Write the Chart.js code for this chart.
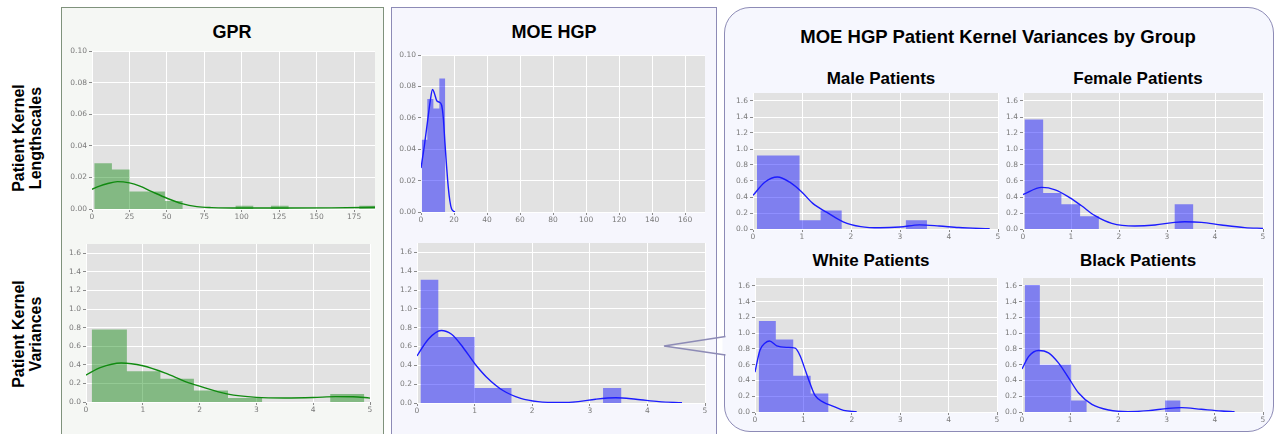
<!DOCTYPE html>
<html>
<head>
<meta charset="utf-8">
<script src="https://cdn.jsdelivr.net/npm/chart.js@4.4.1/dist/chart.umd.min.js"></script>
<style>
  html, body { margin: 0; padding: 0; background: #ffffff; }
  #page { position: relative; width: 1276px; height: 434px; overflow: hidden; background: #ffffff; font-family: 'Liberation Sans', Arial, sans-serif; }
  .panel { position: absolute; box-sizing: border-box; }
  .title { position: absolute; transform: translate(-50%, -50%); font-weight: bold; color: #000; white-space: nowrap; line-height: 1; }
  .rowlab { position: absolute; transform: translate(-50%, -50%) rotate(-90deg); font-weight: bold; font-size: 16px; line-height: 17px; text-align: center; white-space: nowrap; color: #000; }
</style>
</head>
<body>
<div id="page">
  <div class="panel" style="left:61px;top:7px;width:323px;height:440px;border:1.5px solid #7f927c;background:#f5f7f4;"></div>
  <div class="panel" style="left:391px;top:7px;width:326px;height:440px;border:1.5px solid #8d8bb6;background:#f6f6fd;"></div>
  <div class="panel" style="left:724px;top:7px;width:550px;height:425px;border:1.5px solid #8d8bb6;border-radius:26px;background:#f6f7fe;"></div>
  <svg width="1276" height="434" style="position:absolute;left:0;top:0;z-index:10;">
    <rect x="722.5" y="337" width="5" height="17" fill="#f6f7fe" />
    <polyline points="725.5,336.5 664,346 725.5,355" fill="none" stroke="#8d8bb6" stroke-width="1.5" />
  </svg>

  <div class="title" style="left:232px;top:32px;font-size:18px;">GPR</div>
  <div class="title" style="left:554px;top:32px;font-size:18px;">MOE HGP</div>
  <div class="title" style="left:998px;top:37px;font-size:18.5px;">MOE HGP Patient Kernel Variances by Group</div>
  <div class="title" style="left:881px;top:78px;font-size:17px;">Male Patients</div>
  <div class="title" style="left:1138px;top:78px;font-size:17px;">Female Patients</div>
  <div class="title" style="left:871px;top:260px;font-size:17px;">White Patients</div>
  <div class="title" style="left:1138px;top:260px;font-size:17px;">Black Patients</div>

  <div class="rowlab" style="left:27px;top:138px;">Patient Kernel<br>Lengthscales</div>
  <div class="rowlab" style="left:27px;top:334px;">Patient Kernel<br>Variances</div>
</div>

<script>
// tick values
const gprLenTicksX = [0, 25, 50, 75, 100, 125, 150, 175];
const moeLenTicksX = [0, 20, 40, 60, 80, 100, 120, 140, 160];
const varTicksX = [0, 1, 2, 3, 4, 5];
const lenTicksY = [0, 0.02, 0.04, 0.06, 0.08, 0.10];
const varTicksY = [0, 0.2, 0.4, 0.6, 0.8, 1.0, 1.2, 1.4, 1.6];

// GPR lengthscales
const gprLenEdges = [1.5, 13.3, 25.1, 36.9, 48.7, 60.5, 95.9, 107.7, 119.5, 131.3, 178.5, 190.3];
const gprLenHeights = [0.029, 0.025, 0.011, 0.011, 0.005, 0, 0.002, 0, 0.002, 0, 0.002];
const gprLenKdeX = [0, 5, 10, 17, 25, 32, 40, 50, 60, 70, 80, 100, 130, 160, 190];
const gprLenKdeY = [0.0125, 0.0145, 0.016, 0.0173, 0.0165, 0.0145, 0.011, 0.0068, 0.0034, 0.0015, 0.0009, 0.0006, 0.0006, 0.0007, 0.0011];

// GPR variances
const gprVarEdges = [0.1, 0.72, 1.31, 1.9, 2.5, 3.1, 4.3, 4.9];
const gprVarHeights = [0.78, 0.33, 0.25, 0.125, 0.043, 0, 0.085];
const gprVarKdeX = [0, 0.25, 0.62, 1.0, 1.4, 1.75, 2.0, 2.5, 3.0, 3.5, 4.0, 4.4, 4.7, 5.0];
const gprVarKdeY = [0.29, 0.37, 0.42, 0.39, 0.31, 0.22, 0.17, 0.085, 0.05, 0.043, 0.048, 0.058, 0.057, 0.042];

// MOE HGP lengthscales
const moeLenEdges = [0.4, 3.8, 7.5, 11.1, 14.7];
const moeLenHeights = [0.046, 0.072, 0.066, 0.085];
const moeLenKdeX = [0, 2, 4, 5.5, 7, 8, 9.5, 11, 12.5, 13.5, 14.5, 15.5, 16.5, 17.5, 18.5, 20.5];
const moeLenKdeY = [0.028, 0.042, 0.058, 0.070, 0.078, 0.076, 0.071, 0.070, 0.068, 0.060, 0.044, 0.029, 0.016, 0.007, 0.002, 0];

// MOE HGP variances
const moeVarEdges = [0.06, 0.37, 0.69, 1.0, 1.32, 1.64, 3.23, 3.55];
const moeVarHeights = [1.31, 0.70, 0.70, 0.16, 0.16, 0, 0.16];
const moeVarKdeX = [0, 0.2, 0.42, 0.6, 0.8, 1.0, 1.2, 1.5, 1.8, 2.1, 2.5, 2.8, 3.1, 3.45, 3.8, 4.2, 4.6];
const moeVarKdeY = [0.50, 0.68, 0.77, 0.73, 0.59, 0.42, 0.28, 0.13, 0.05, 0.015, 0.005, 0.015, 0.04, 0.055, 0.04, 0.015, 0.003];

// by group
const maleEdges = [0.08, 0.52, 0.95, 1.38, 1.81, 3.12, 3.55];
const maleHeights = [0.92, 0.92, 0.11, 0.23, 0, 0.11];
const maleKdeX = [0, 0.24, 0.5, 0.75, 1.0, 1.22, 1.5, 1.84, 2.2, 2.6, 3.0, 3.4, 3.8, 4.2, 4.83];
const maleKdeY = [0.42, 0.585, 0.65, 0.585, 0.46, 0.32, 0.21, 0.09, 0.03, 0.015, 0.025, 0.052, 0.038, 0.018, 0.003];

const femaleEdges = [0.03, 0.42, 0.80, 1.19, 1.58, 3.16, 3.55];
const femaleHeights = [1.37, 0.45, 0.31, 0.16, 0, 0.31];
const femaleKdeX = [0, 0.39, 0.67, 0.98, 1.22, 1.5, 1.85, 2.33, 2.75, 3.16, 3.37, 3.72, 4.13, 4.62, 5.0];
const femaleKdeY = [0.43, 0.52, 0.49, 0.39, 0.29, 0.166, 0.07, 0.037, 0.05, 0.083, 0.09, 0.083, 0.05, 0.017, 0.008];

const whiteEdges = [0.076, 0.43, 0.79, 1.15, 1.52];
const whiteHeights = [1.155, 0.92, 0.46, 0.236];
const whiteKdeX = [0, 0.1, 0.21, 0.3, 0.45, 0.66, 0.83, 0.93, 1.03, 1.14, 1.24, 1.41, 1.62, 1.83, 2.1];
const whiteKdeY = [0.505, 0.78, 0.876, 0.90, 0.84, 0.82, 0.81, 0.716, 0.547, 0.358, 0.21, 0.126, 0.072, 0.021, 0.004];

const blackEdges = [0.055, 0.37, 0.70, 1.02, 1.34, 2.97, 3.29];
const blackHeights = [1.61, 0.60, 0.60, 0.145, 0, 0.145];
const blackKdeX = [0, 0.14, 0.34, 0.55, 0.76, 0.97, 1.17, 1.45, 1.8, 2.2, 2.62, 3.03, 3.31, 3.72, 4.14, 4.41];
const blackKdeY = [0.546, 0.706, 0.78, 0.75, 0.62, 0.43, 0.244, 0.097, 0.025, 0.005, 0.017, 0.046, 0.055, 0.034, 0.013, 0.004];

const GREEN_FILL = 'rgba(0, 128, 0, 0.42)';
const GREEN_LINE = '#108a10';
const BLUE_FILL = 'rgba(0, 0, 255, 0.44)';
const BLUE_LINE = '#1c1cff';

// axis box sizes around each plot area
const YW = 28, XH = 14, TP = 6, RP = 10;

const plotBg = {
	id: 'plotBg',
	beforeDraw(chart) {
		const { ctx, chartArea: a } = chart;
		ctx.save();
		ctx.fillStyle = '#e2e2e2';
		ctx.fillRect(a.left, a.top, a.width, a.height);
		ctx.restore();
	}
};

function drawHist(box, o) {
	const c = document.createElement('canvas');
	const w = box[2] - box[0] + YW + RP;
	const h = box[3] - box[1] + TP + XH;
	c.width = w;
	c.height = h;
	c.style.cssText = 'position:absolute;left:' + (box[0] - YW) + 'px;top:' + (box[1] - TP) + 'px;width:' + w + 'px;height:' + h + 'px;';
	document.getElementById('page').appendChild(c);

	const histPts = o.edges.map((e, i) => ({ x: e, y: i < o.heights.length ? o.heights[i] : 0 }));
	const kdePts = o.kdeX.map((x, i) => ({ x: x, y: o.kdeY[i] }));

	const tickFont = { family: 'DejaVu Sans', size: 7.5 };

	return new Chart(c, {
		type: 'line',
		data: {
			datasets: [{
				data: kdePts,
				borderColor: o.line,
				borderWidth: 1.4,
				pointRadius: 0,
				cubicInterpolationMode: 'monotone',
				fill: false,
			}, {
				data: histPts,
				stepped: true,
				backgroundColor: o.fill,
				borderColor: 'transparent',
				borderWidth: 0,
				pointRadius: 0,
				fill: 'origin',
			}]
		},
		options: {
			responsive: false,
			animation: false,
			events: [],
			layout: { padding: { top: TP, right: RP, left: 0, bottom: 0 } },
			scales: {
				x: {
					type: 'linear',
					min: 0,
					max: o.xMax,
					afterBuildTicks: s => { s.ticks = o.xTicks.map(v => ({ value: v })); },
					afterFit: s => { s.height = XH; s.paddingLeft = 0; s.paddingRight = 0; },
					grid: { color: '#ffffff', lineWidth: 1, drawTicks: true, tickLength: 3, tickColor: '#8a8a8a' },
					border: { display: false },
					ticks: {
						font: tickFont,
						color: '#7a7a7a',
						padding: 1,
						maxRotation: 0,
						autoSkip: false,
						callback: v => String(v)
					}
				},
				y: {
					min: 0,
					max: o.yMax,
					afterBuildTicks: s => { s.ticks = o.yTicks.map(v => ({ value: v })); },
					afterFit: s => { s.width = YW; s.paddingTop = 0; s.paddingBottom = 0; },
					grid: { color: '#ffffff', lineWidth: 1, drawTicks: true, tickLength: 3, tickColor: '#8a8a8a' },
					border: { display: false },
					ticks: {
						font: tickFont,
						color: '#7a7a7a',
						padding: 2,
						autoSkip: false,
						callback: v => v.toFixed(o.yDigits)
					}
				}
			},
			plugins: {
				legend: { display: false },
				tooltip: { enabled: false },
				title: { display: false }
			}
		},
		plugins: [plotBg]
	});
}

// Chart GPR lengthscales
drawHist([92, 51, 375, 209], {
	edges: gprLenEdges, heights: gprLenHeights, kdeX: gprLenKdeX, kdeY: gprLenKdeY,
	xMax: 189, yMax: 0.1, xTicks: gprLenTicksX, yTicks: lenTicksY, yDigits: 2,
	fill: GREEN_FILL, line: GREEN_LINE
});

// Chart GPR variances
drawHist([86, 244, 370, 402], {
	edges: gprVarEdges, heights: gprVarHeights, kdeX: gprVarKdeX, kdeY: gprVarKdeY,
	xMax: 5, yMax: 1.7, xTicks: varTicksX, yTicks: varTicksY, yDigits: 1,
	fill: GREEN_FILL, line: GREEN_LINE
});

// Chart MOE lengthscales
drawHist([421, 55, 705, 212], {
	edges: moeLenEdges, heights: moeLenHeights, kdeX: moeLenKdeX, kdeY: moeLenKdeY,
	xMax: 172, yMax: 0.1, xTicks: moeLenTicksX, yTicks: lenTicksY, yDigits: 2,
	fill: BLUE_FILL, line: BLUE_LINE
});

// Chart MOE variances
drawHist([417, 243, 705, 403], {
	edges: moeVarEdges, heights: moeVarHeights, kdeX: moeVarKdeX, kdeY: moeVarKdeY,
	xMax: 5, yMax: 1.7, xTicks: varTicksX, yTicks: varTicksY, yDigits: 1,
	fill: BLUE_FILL, line: BLUE_LINE
});

// Group charts
drawHist([753, 93, 998, 229], {
	edges: maleEdges, heights: maleHeights, kdeX: maleKdeX, kdeY: maleKdeY,
	xMax: 5, yMax: 1.7, xTicks: varTicksX, yTicks: varTicksY, yDigits: 1,
	fill: BLUE_FILL, line: BLUE_LINE
});
drawHist([1023, 93, 1263, 229], {
	edges: femaleEdges, heights: femaleHeights, kdeX: femaleKdeX, kdeY: femaleKdeY,
	xMax: 5, yMax: 1.7, xTicks: varTicksX, yTicks: varTicksY, yDigits: 1,
	fill: BLUE_FILL, line: BLUE_LINE
});
drawHist([755, 278, 997, 412], {
	edges: whiteEdges, heights: whiteHeights, kdeX: whiteKdeX, kdeY: whiteKdeY,
	xMax: 5, yMax: 1.7, xTicks: varTicksX, yTicks: varTicksY, yDigits: 1,
	fill: BLUE_FILL, line: BLUE_LINE
});
drawHist([1022, 278, 1263, 412], {
	edges: blackEdges, heights: blackHeights, kdeX: blackKdeX, kdeY: blackKdeY,
	xMax: 5, yMax: 1.7, xTicks: varTicksX, yTicks: varTicksY, yDigits: 1,
	fill: BLUE_FILL, line: BLUE_LINE
});
</script>
</body>
</html>
